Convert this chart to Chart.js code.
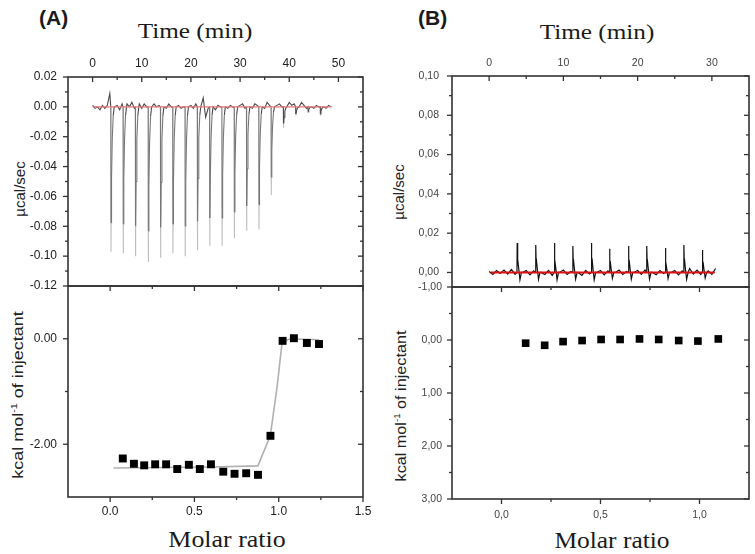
<!DOCTYPE html>
<html>
<head>
<meta charset="utf-8">
<script src="https://cdn.jsdelivr.net/npm/chart.js@4.4.1/dist/chart.umd.min.js"></script>
<style>
  html, body { margin: 0; padding: 0; background: #fff; }
  body { width: 755px; height: 554px; position: relative; overflow: hidden; }
  canvas { position: absolute; left: 0; top: 0; }
  .txt { position: absolute; white-space: nowrap; color: #1a1a1a; }
  .panel { font: bold 20px "Liberation Sans", Arial, sans-serif; line-height: 20px; }
  .serif { font-family: "Liberation Serif", "Times New Roman", serif; }
  .ylab { font-family: "Liberation Sans", Arial, sans-serif; color: #222; }
  .ylab sup { font-size: 0.6em; }
</style>
</head>
<body>
<div class="txt panel" style="left:39px;top:8px;transform:scaleX(1.05);transform-origin:left">(A)</div>
<div class="txt panel" style="left:418px;top:8px;transform:scaleX(1.05);transform-origin:left">(B)</div>

<div class="txt serif" style="left:195px;top:21px;font-size:21px;line-height:21px;transform:translateX(-50%) scaleX(1.2)">Time (min)</div>
<div class="txt serif" style="left:597px;top:22px;font-size:21px;line-height:21px;transform:translateX(-50%) scaleX(1.2)">Time (min)</div>
<div class="txt serif" style="left:227px;top:527px;font-size:24px;line-height:24px;transform:translateX(-50%) scaleX(1.08)">Molar ratio</div>
<div class="txt serif" style="left:612px;top:528px;font-size:24px;line-height:24px;transform:translateX(-50%) scaleX(1.06)">Molar ratio</div>

<div class="txt ylab" style="left:19px;top:189px;font-size:15px;transform:translate(-50%,-50%) rotate(-90deg)">µcal/sec</div>
<div class="txt ylab" style="left:398px;top:192px;font-size:15px;transform:translate(-50%,-50%) rotate(-90deg)">µcal/sec</div>
<div class="txt ylab" style="left:17px;top:395px;font-size:15px;transform:translate(-50%,-50%) rotate(-90deg) scaleX(1.2)">kcal mol<sup>-1</sup> of injectant</div>
<div class="txt ylab" style="left:400px;top:406px;font-size:15px;transform:translate(-50%,-50%) rotate(-90deg) scaleX(1.08)">kcal mol<sup>-1</sup> of injectant</div>

<canvas id="aTop" width="755" height="554"></canvas>
<canvas id="aBottom" width="755" height="554"></canvas>
<canvas id="bTop" width="755" height="554"></canvas>
<canvas id="bBottom" width="755" height="554"></canvas>

<script>
// ---------- Panel A : raw thermogram (µcal/sec vs time) ----------
const injTimesA = [3.7, 6.2, 8.7, 11.3, 13.8, 16.3, 18.8, 21.3, 23.8, 26.3, 28.8, 31.3, 33.8, 36.3, 38.8, 41.3, 43.8, 46.3];
const injPeaksA = [-0.097, -0.098, -0.100, -0.104, -0.101, -0.098, -0.100, -0.096, -0.093, -0.093, -0.088, -0.083, -0.082, -0.059, -0.014, -0.006, -0.004, -0.006];
// baseline wiggle, one value every 0.5 min from 0 to 48.5
const noiseStepA = 0.5;
const noiseA = [
  0.001, -0.001, 0.000, -0.002, 0.001, -0.001, 0.001, 0.009, 0.000, 0.000,
  0.001, -0.002, 0.002, 0.000, 0.002, 0.000, 0.003, -0.001, 0.000, 0.002,
  -0.001, 0.002, 0.000, 0.000, -0.001, 0.002, 0.000, 0.001, 0.000, 0.001,
  -0.001, 0.002, 0.000, 0.000, -0.002, 0.001, -0.001, 0.000, 0.000, -0.002,
  0.001, -0.001, 0.002, 0.000, 0.000, 0.006, -0.007, -0.001, 0.000, 0.001,
  -0.002, 0.001, 0.000, 0.000, 0.002, -0.001, 0.001, 0.000, 0.000, -0.002,
  0.001, 0.002, -0.001, 0.000, 0.001, -0.001, 0.002, 0.001, 0.000, 0.000,
  -0.001, 0.003, 0.001, 0.000, -0.003, 0.001, 0.002, 0.000, 0.000, 0.002,
  0.003, 0.001, 0.002, 0.000, 0.001, 0.003, 0.001, -0.001, 0.000, 0.001,
  -0.001, 0.001, 0.000, 0.000, 0.001, -0.001, 0.001, 0.000
];
const baselineTimesA = [0, 48.7];
const timeLabelsA = [0, 10, 20, 30, 40, 50];
const timeMinorA = [5, 15, 25, 35, 45];
const powerLabelsA = [-0.12, -0.10, -0.08, -0.06, -0.04, -0.02, 0, 0.02];
const powerMinorA = [-0.11, -0.09, -0.07, -0.05, -0.03, -0.01, 0.01];

// ---------- Panel A : integrated heats ----------
const molarA = [0.075, 0.141, 0.202, 0.267, 0.332, 0.398, 0.467, 0.532, 0.598, 0.671, 0.738, 0.807, 0.877, 0.951, 1.023, 1.09, 1.167, 1.239];
const heatA = [-2.27, -2.37, -2.40, -2.38, -2.38, -2.47, -2.39, -2.47, -2.38, -2.52, -2.56, -2.55, -2.58, -1.84, -0.04, 0.01, -0.08, -0.10];
const fitMolarA = [0.02, 0.3, 0.6, 0.877, 0.91, 0.95, 0.99, 1.02, 1.06, 1.15, 1.24];
const fitHeatA = [-2.45, -2.44, -2.43, -2.41, -2.15, -1.84, -0.92, -0.07, -0.01, -0.01, -0.02];
const ratioLabelsA = [0, 0.5, 1.0, 1.5];
const ratioMinorA = [0.25, 0.75, 1.25];
const heatLabelsA = [-2, 0];
const heatMinorA = [-1];

// ---------- Panel B : raw thermogram ----------
const injTimesB = [3.75, 6.25, 8.75, 11.25, 13.75, 16.2, 18.75, 21.2, 23.7, 26.2, 28.7];
const injPeaksB = [0.0150, 0.0140, 0.0150, 0.0135, 0.0150, 0.0121, 0.0135, 0.0135, 0.0124, 0.0140, 0.0114];
const noiseStepB = 0.5;
const noiseB = [
  0.0005, -0.0010, 0.0010, -0.0005, 0.0012, -0.0008, 0.0015, -0.0010, 0, 0,
  0.0010, -0.0012, 0.0008, 0, 0, -0.0010, 0.0010, -0.0015, 0, 0,
  0.0012, -0.0010, 0.0005, 0, 0, -0.0015, 0.0010, -0.0008, 0, 0,
  0.0010, -0.0012, 0.0008, 0, 0, 0.0012, -0.0010, 0.0005, 0, 0,
  0.0010, -0.0010, 0.0012, 0, 0, -0.0012, 0.0010, -0.0005, 0, 0,
  0.0010, -0.0012, 0.0008, 0, 0.0020, -0.0008, 0.0012, -0.0010, 0, 0.0008,
  -0.0010, 0.0020
];
const baselineTimesB = [0.2, 30.4];
const timeLabelsB = [0, 10, 20, 30];
const timeMinorB = [5, 15, 25];
const powerLabelsB = [0, 0.02, 0.04, 0.06, 0.08, 0.10];
const powerMinorB = [0.01, 0.03, 0.05, 0.07, 0.09];

// ---------- Panel B : integrated heats ----------
const molarB = [0.122, 0.218, 0.311, 0.407, 0.503, 0.599, 0.697, 0.794, 0.895, 0.992, 1.095];
const heatB = [0.06, 0.10, 0.03, 0.01, -0.01, -0.01, -0.02, -0.01, 0.01, 0.02, -0.02];
const ratioLabelsB = [0, 0.5, 1.0];
const ratioMinorB = [0.25, 0.75];
const heatLabelsB = [-1, 0, 1, 2, 3];
const heatMinorB = [-0.5, 0.5, 1.5, 2.5];

// shape of one injection peak (time offset in min, fraction of peak height)
const spikeDtA = [0, 0.03, 0.04, 0.07, 0.15, 0.3, 0.5, 0.7];
const spikeFracA = [0, 0.8, 1, 0.8, 0.5, 0.22, 0.06, 0];
const spikeDtB = [0, 0.03, 0.07, 0.12, 0.25, 0.4, 0.6];
const spikeFracB = [0, 1, 0.5, 0.45, 0.1, -0.25, 0];

// points with frac >= tipFrac are flagged as the thin tip of a peak
function buildTrace(noise, step, times, peaks, dt, frac, tipFrac) {
  const win = dt[dt.length - 1] + 0.05;
  const pts = [];
  noise.forEach((v, i) => {
    const t = i * step;
    if (!times.some(tp => t > tp - 0.1 && t < tp + win)) pts.push({ x: t, y: v, tip: false });
  });
  times.forEach((tp, k) => {
    dt.forEach((d, j) => pts.push({ x: tp + d, y: peaks[k] * frac[j], tip: frac[j] >= tipFrac }));
  });
  return pts.sort((a, b) => a.x - b.x);
}

// box + tick marks drawn from the scales
const framePlugin = {
  id: "frame",
  afterDatasetsDraw(chart, args, opts) {
    const { ctx, chartArea: a } = chart;
    ctx.save();
    ctx.strokeStyle = "#333";
    ctx.lineWidth = 1.6;
    ctx.strokeRect(a.left, a.top, a.right - a.left, a.bottom - a.top);
    ctx.lineWidth = 1.3;
    (opts.marks || []).forEach(m => {
      const s = chart.scales[m.scale];
      const sign = m.dir === "out" ? 1 : -1;
      const list = m.major.map(v => [v, 5]).concat(m.minor.map(v => [v, 3]));
      list.forEach(([v, len]) => {
        const p = s.getPixelForValue(v);
        ctx.beginPath();
        if (m.side === "left") { ctx.moveTo(a.left, p); ctx.lineTo(a.left - sign * len, p); }
        if (m.side === "right") { ctx.moveTo(a.right, p); ctx.lineTo(a.right + sign * len, p); }
        if (m.side === "top") { ctx.moveTo(p, a.top); ctx.lineTo(p, a.top - sign * len); }
        if (m.side === "bottom") { ctx.moveTo(p, a.bottom); ctx.lineTo(p, a.bottom + sign * len); }
        ctx.stroke();
      });
    });
    ctx.restore();
  }
};

const fmtA = d => v => v.toFixed(d);
const fmtB = d => v => v.toFixed(d).replace(".", ",");

// axis box size is forced, so the plot box lands where the picture has it
function axis(pos, min, max, labels, fmt, font, color, pad, size, extra) {
  return Object.assign({
    type: "linear",
    position: pos,
    min: min,
    max: max,
    grid: { display: false, drawTicks: false },
    border: { display: false },
    ticks: { autoSkip: false, maxRotation: 0, padding: pad, font: font, color: color, callback: fmt },
    afterBuildTicks: s => { s.ticks = labels.map(v => ({ value: v })); },
    afterFit: s => { if (pos === "left" || pos === "right") s.width = size; else s.height = size; }
  }, extra || {});
}

// area = [left, top, right, bottom] of the plot box in page pixels
function makeChart(id, area, scales, datasets, marks, hasBottomAxis) {
  return new Chart(document.getElementById(id), {
    type: "scatter",
    data: { datasets: datasets },
    options: {
      responsive: false,
      animation: false,
      devicePixelRatio: 1,
      events: [],
      layout: { padding: { left: 0, top: hasBottomAxis ? area[1] : 0, right: 755 - area[2], bottom: hasBottomAxis ? 0 : 554 - area[3] } },
      scales: scales,
      plugins: { legend: { display: false }, tooltip: { enabled: false }, frame: { marks: marks } }
    },
    plugins: [framePlugin]
  });
}

const fontA = { family: "'Liberation Sans', Arial, sans-serif", size: 12 };
const fontB = { family: "'Liberation Sans', Arial, sans-serif", size: 10.5 };
const colA = "#222";
const colB = "#444";

const traceA = buildTrace(noiseA, noiseStepA, injTimesA, injPeaksA, spikeDtA, spikeFracA, 0.8);

// A - thermogram
makeChart("aTop", [68, 77, 363, 286], {
  x: axis("top", -5, 55, timeLabelsA, fmtA(0), fontA, colA, 6.5, 77),
  y: axis("left", -0.12, 0.02, powerLabelsA, fmtA(2), fontA, colA, 11, 68)
}, [
  { data: baselineTimesA.map(t => ({ x: t, y: 0 })), showLine: true, pointRadius: 0, borderColor: "#e47878", borderWidth: 1.2 },
  {
    data: traceA,
    showLine: true, pointRadius: 0, borderWidth: 1.1, borderColor: "#777",
    segment: {
      borderColor: c => {
        const p0 = traceA[c.p0DataIndex], p1 = traceA[c.p1DataIndex];
        if (p0.tip && p1.tip) return "#bdbdbd";
        if (Math.abs(p0.y) < 0.012 && Math.abs(p1.y) < 0.012) return "#4a4a4a";
        return "#777";
      }
    }
  }
], [
  { scale: "y", side: "left", dir: "out", major: powerLabelsA, minor: powerMinorA },
  { scale: "y", side: "right", dir: "in", major: powerLabelsA, minor: powerMinorA },
  { scale: "x", side: "top", dir: "in", major: timeLabelsA, minor: timeMinorA }
], false);

// A - integrated heats with fit
makeChart("aBottom", [68, 286, 363, 497], {
  x: axis("bottom", -0.25, 1.5, ratioLabelsA, fmtA(1), fontA, colA, 7.5, 554 - 497),
  y: axis("left", -3, 1, heatLabelsA, fmtA(2), fontA, colA, 11, 68)
}, [
  { data: molarA.map((m, i) => ({ x: m, y: heatA[i] })), pointStyle: "rect", pointRadius: 5.6, backgroundColor: "#000", borderColor: "#000", borderWidth: 0 },
  { data: fitMolarA.map((m, i) => ({ x: m, y: fitHeatA[i] })), showLine: true, pointRadius: 0, borderColor: "#b0b0b0", borderWidth: 1.6 }
], [
  { scale: "y", side: "left", dir: "out", major: heatLabelsA, minor: heatMinorA },
  { scale: "y", side: "right", dir: "in", major: heatLabelsA, minor: heatMinorA },
  { scale: "x", side: "top", dir: "in", major: ratioLabelsA, minor: ratioMinorA },
  { scale: "x", side: "bottom", dir: "out", major: ratioLabelsA, minor: ratioMinorA }
], true);

// B - thermogram
makeChart("bTop", [452, 76, 749, 287], {
  x: axis("top", -5, 35, timeLabelsB, fmtB(0), fontB, colB, 6.5, 76),
  y: axis("left", -0.0074, 0.10, powerLabelsB, fmtB(2), fontB, colB, 13, 452)
}, [
  { data: baselineTimesB.map(t => ({ x: t, y: 0 })), showLine: true, pointRadius: 0, borderColor: "#dd1111", borderWidth: 2 },
  { data: buildTrace(noiseB, noiseStepB, injTimesB, injPeaksB, spikeDtB, spikeFracB, 2), showLine: true, pointRadius: 0, borderColor: "#111", borderWidth: 1.2 }
], [
  { scale: "y", side: "left", dir: "out", major: powerLabelsB, minor: powerMinorB },
  { scale: "y", side: "right", dir: "in", major: powerLabelsB, minor: powerMinorB },
  { scale: "x", side: "top", dir: "in", major: timeLabelsB, minor: timeMinorB }
], false);

// B - integrated heats (reversed axis)
makeChart("bBottom", [452, 287, 749, 499], {
  x: axis("bottom", -0.25, 1.25, ratioLabelsB, fmtB(1), fontB, colB, 9.5, 554 - 499),
  y: axis("left", -1, 3, heatLabelsB, fmtB(2), fontB, colB, 10, 452, { reverse: true })
}, [
  { data: molarB.map((m, i) => ({ x: m, y: heatB[i] })), pointStyle: "rect", pointRadius: 5.4, backgroundColor: "#000", borderColor: "#000", borderWidth: 0 }
], [
  { scale: "y", side: "left", dir: "out", major: heatLabelsB, minor: heatMinorB },
  { scale: "y", side: "right", dir: "in", major: heatLabelsB, minor: heatMinorB },
  { scale: "x", side: "top", dir: "in", major: ratioLabelsB, minor: ratioMinorB },
  { scale: "x", side: "bottom", dir: "out", major: ratioLabelsB, minor: ratioMinorB }
], true);
</script>
</body>
</html>
